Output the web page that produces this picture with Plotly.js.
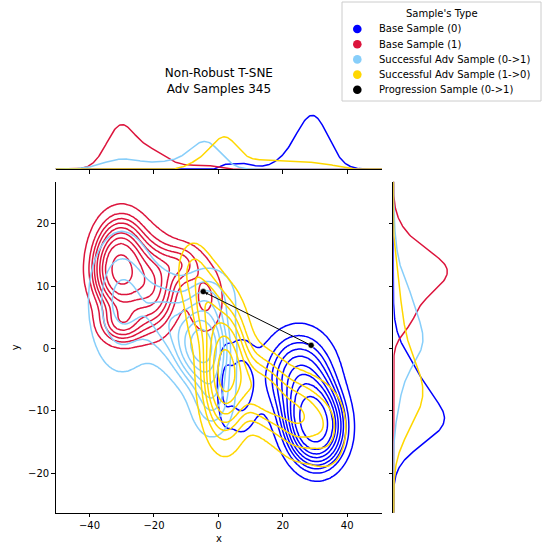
<!DOCTYPE html>
<html><head><meta charset="utf-8">
<script src="https://cdn.plot.ly/plotly-3.0.1.min.js"></script>
<style>html,body{margin:0;padding:0;background:#fff}</style>
</head><body><div id="chart" style="width:544px;height:545px"></div>
<script>
// ---- data ----
const classNames = ["Base Sample (0)", "Base Sample (1)", "Successful Adv Sample (0->1)", "Successful Adv Sample (1->0)"];
const classColors = ["#0000ff", "#dc143c", "#87cefa", "#ffd700"];
const classWeights = [0.29, 0.27, 0.21, 0.23];
// density components per class: [centre x, centre y, spread x, spread y, corr, weight]
const blueComponents = [
  [28.5, -10.5, 4.5, 3.5, 0, 0.30],
  [31, -13, 4.5, 3.3, 0, 0.30],
  [25, -4.5, 6, 4, 0, 0.24],
  [7, -6, 3.5, 4.5, 0, 0.06],
  [2, -6, 1.5, 4, 0, 0.012]
];
const redComponents = [
  [-31.5, 12.6, 4.3, 3.4, 0, 0.22],
  [-29.5, 12.2, 4.3, 3.4, 0, 0.22],
  [-30, 17.5, 4.5, 3, 0, 0.07],
  [-21, 10, 4.5, 4, 0, 0.24],
  [-30, 4.2, 4, 2, 0, 0.07],
  [-4, 8, 3.5, 3.5, 0, 0.04],
  [-12, 13.5, 4, 2, 0, 0.04]
];
const lightBlueComponents = [
  [-5, 0.5, 4.5, 3.5, 0, 0.34],
  [-15, 4, 6, 4.5, -0.3, 0.18],
  [-30, 7.5, 6, 6.5, 0, 0.26],
  [-2, -7, 4, 4, 0, 0.12],
  [-3, 8, 5, 3, 0, 0.08]
];
const goldComponents = [
  [2, -3.5, 4, 6, 0, 0.45],
  [-4, 7, 3.5, 4, 0, 0.08],
  [14, -7, 6.5, 4, -0.4, 0.22],
  [26, -11, 5, 4, 0, 0.11],
  [34, -13, 4, 4, 0, 0.05],
  [-8, 12.5, 3, 3, 0, 0.03]
];
const progressionX = [28.8, -4.7];
const progressionY = [0.5, 9.1];
const isoProportions = [0.05, 0.1556, 0.2611, 0.3667, 0.4722, 0.5778, 0.6833, 0.7889, 0.8944];
const xTicks = [-40, -20, 0, 20, 40];
const yTicks = [-20, -10, 0, 10, 20];
const legendTitle = "Sample's Type";
const legendLabels = ["Base Sample (0)", "Base Sample (1)", "Successful Adv Sample (0->1)", "Successful Adv Sample (1->0)", "Progression Sample (0->1)"];
const legendColors = ["#0000ff", "#dc143c", "#87cefa", "#ffd700", "#000000"];

// ---- computation ----
const allComponents = [blueComponents, redComponents, lightBlueComponents, goldComponents];
const gx = [], gy = [];
for (let v = -56; v <= 56.001; v += 0.5) gx.push(+v.toFixed(3));
for (let v = -32; v <= 32.001; v += 0.4) gy.push(+v.toFixed(3));

function norm(comps) {
  const s = comps.reduce((a, c) => a + c[5], 0);
  return comps.map(c => [c[0], c[1], c[2], c[3], c[4], c[5] / s]);
}
function dens2(comps, x, y) {
  let t = 0;
  for (const c of comps) {
    const dx = (x - c[0]) / c[2], dy = (y - c[1]) / c[3], r = c[4];
    const q = (dx * dx - 2 * r * dx * dy + dy * dy) / (2 * (1 - r * r));
    t += c[5] * Math.exp(-q) / (2 * Math.PI * c[2] * c[3] * Math.sqrt(1 - r * r));
  }
  return t;
}
function dens1(comps, v, mi, si) {
  let t = 0;
  for (const c of comps) {
    const d = (v - c[mi]) / c[si];
    t += c[5] * Math.exp(-0.5 * d * d) / (Math.sqrt(2 * Math.PI) * c[si]);
  }
  return t;
}
const normed = allComponents.map(norm);
const grids = normed.map((comps, k) => gy.map(y => gx.map(x => classWeights[k] * dens2(comps, x, y))));
const allVals = [];
grids.forEach(g => g.forEach(row => row.forEach(v => allVals.push(v))));
allVals.sort((a, b) => b - a);
const total = allVals.reduce((a, b) => a + b, 0);
const cum = [];
let acc = 0;
for (const v of allVals) { acc += v; cum.push(acc / total); }
const levels = isoProportions.map(p => {
  const target = 1 - p;
  let lo = 0, hi = cum.length - 1;
  while (lo < hi) { const m = (lo + hi) >> 1; if (cum[m] < target) lo = m + 1; else hi = m; }
  return allVals[lo];
}).sort((a, b) => a - b);
function mapLevel(z) {
  const L = levels, n = L.length;
  if (z <= L[0]) return -1 + z / L[0];
  for (let i = 0; i < n - 1; i++) if (z <= L[i + 1]) return i + (z - L[i]) / (L[i + 1] - L[i]);
  return n - 1 + (z - L[n - 1]) / (L[n - 1] - L[n - 2]);
}

const traces = [];
const drawOrder = [0, 1, 2, 3];
drawOrder.forEach(k => {
  traces.push({
    type: 'contour', x: gx, y: gy, z: grids[k].map(r => r.map(mapLevel)), name: classNames[k],
    xaxis: 'x', yaxis: 'y', showscale: false, showlegend: false, hoverinfo: 'skip',
    autocontour: false,
    contours: { coloring: 'lines', start: 0, end: levels.length - 1, size: 1 },
    colorscale: [[0, classColors[k]], [1, classColors[k]]],
    line: { width: 1.5, smoothing: 1 }
  });
});
// marginals
const mx = [], my = [];
for (let v = -56; v <= 56.001; v += 0.25) mx.push(+v.toFixed(3));
for (let v = -32; v <= 32.001; v += 0.2) my.push(+v.toFixed(3));
let topMax = 0, rightMax = 0;
drawOrder.forEach(k => {
  const tv = mx.map(x => classWeights[k] * dens1(normed[k], x, 0, 2));
  const rv = my.map(y => classWeights[k] * dens1(normed[k], y, 1, 3));
  topMax = Math.max(topMax, ...tv); rightMax = Math.max(rightMax, ...rv);
  traces.push({ type: 'scatter', mode: 'lines', x: mx, y: tv, xaxis: 'x2', yaxis: 'y2', name: classNames[k],
    line: { color: classColors[k], width: 1.5 }, showlegend: false, hoverinfo: 'skip' });
  traces.push({ type: 'scatter', mode: 'lines', x: rv, y: my, xaxis: 'x3', yaxis: 'y3', name: classNames[k],
    line: { color: classColors[k], width: 1.5 }, showlegend: false, hoverinfo: 'skip' });
});
// progression points
traces.push({ type: 'scatter', mode: 'markers', x: progressionX, y: progressionY, xaxis: 'x', yaxis: 'y',
  name: 'Progression Sample (0->1)',
  marker: { color: 'black', size: 6, line: { color: 'white', width: 0.5 } }, showlegend: false, hoverinfo: 'skip' });

const W = 544, H = 545;
const font = { family: 'DejaVu Sans, sans-serif', size: 10, color: 'black' };
const mainX = [55.7 / W, 382 / W];
const mainY = [(H - 512.7) / H, (H - 181.7) / H];
const axBase = { showgrid: false, zeroline: false, showline: true, linecolor: 'black', linewidth: 1,
  ticks: 'outside', ticklen: 3.5, tickwidth: 1, tickcolor: 'black', tickfont: font };

// hand-built legend box (matplotlib style)
const px = v => v / W, py = v => 1 - v / H;
const shapes = [{ type: 'rect', xref: 'paper', yref: 'paper', x0: px(342), x1: px(541), y0: py(2), y1: py(101),
  line: { color: '#cccccc', width: 1 }, fillcolor: 'white', layer: 'above' }];
const annotations = [{ x: px(441.5), y: py(13.5), xref: 'paper', yref: 'paper', text: legendTitle, showarrow: false,
  xanchor: 'center', yanchor: 'middle', font: font }];
legendLabels.forEach((t, i) => {
  const cy = 29 + 15.2 * i;
  shapes.push({ type: 'circle', xref: 'paper', yref: 'paper', x0: px(357.3 - 4.3), x1: px(357.3 + 4.3),
    y0: py(cy + 4.3), y1: py(cy - 4.3), fillcolor: legendColors[i], line: { width: 0 }, layer: 'above' });
  annotations.push({ x: px(376.5), y: py(cy), xref: 'paper', yref: 'paper', text: t, showarrow: false,
    xanchor: 'left', yanchor: 'middle', font: font });
});
annotations.push({ x: -4.3, y: 9.0, ax: 28.8, ay: 0.5, xref: 'x', yref: 'y', axref: 'x', ayref: 'y', text: '',
  showarrow: true, arrowhead: 2, arrowsize: 0.7, arrowwidth: 1, arrowcolor: 'black' });

const layout = {
  width: W, height: H, margin: { l: 0, r: 0, t: 0, b: 0 }, showlegend: false,
  paper_bgcolor: 'white', plot_bgcolor: 'white', font: font,
  title: { text: 'Non-Robust T-SNE<br>Adv Samples 345', font: { family: 'DejaVu Sans, sans-serif', size: 12, color: 'black' },
    x: 218.9 / W, xanchor: 'center', xref: 'paper', yref: 'paper', y: 1 - 77 / H, yanchor: 'middle' },
  xaxis: Object.assign({}, axBase, { domain: mainX, range: [-50.5, 50.8], anchor: 'y', tickvals: xTicks,
    title: { text: 'x', font: font, standoff: 4 } }),
  yaxis: Object.assign({}, axBase, { domain: mainY, range: [-26.3, 26.7], anchor: 'x', tickvals: yTicks,
    title: { text: 'y', font: font, standoff: 6 } }),
  xaxis2: Object.assign({}, axBase, { domain: mainX, matches: 'x', anchor: 'y2', tickvals: xTicks, showticklabels: false }),
  yaxis2: { domain: [(H - 169.3) / H, (H - 103.3) / H], anchor: 'x2', visible: false, range: [0, topMax / 0.818] },
  xaxis3: { domain: [393.3 / W, 459.3 / W], anchor: 'y3', visible: false, range: [0, rightMax / 0.818] },
  yaxis3: Object.assign({}, axBase, { domain: mainY, matches: 'y', anchor: 'x3', tickvals: yTicks, showticklabels: false }),
  shapes: shapes,
  annotations: annotations
};
Plotly.newPlot('chart', traces, layout, { displayModeBar: false, staticPlot: true });
</script></body></html>
